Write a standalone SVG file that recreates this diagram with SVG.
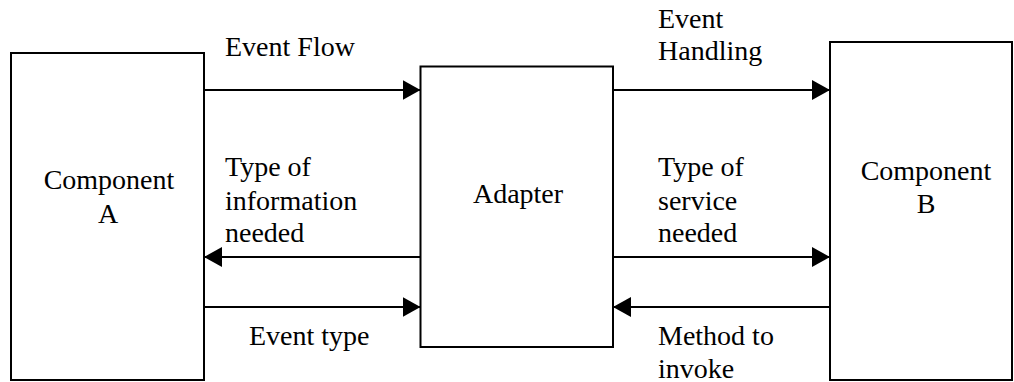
<svg xmlns="http://www.w3.org/2000/svg" width="1014" height="382" viewBox="0 0 1014 382">
  <style>
    .box { fill: #ffffff; stroke: #000000; stroke-width: 2; }
    .link { fill: none; stroke: #000000; stroke-width: 2; marker-end: url(#head); }
    text { font-family: 'Liberation Serif', 'Times New Roman', Tinos, 'DejaVu Serif', serif; font-size: 28px; fill: #000000; }
    .mid { text-anchor: middle; }
  </style>
  <defs>
    <marker id="head" markerUnits="userSpaceOnUse" markerWidth="18" markerHeight="20" refX="18" refY="10" orient="auto">
      <path d="M0,0 L18,10 L0,20 Z" fill="#000000"/>
    </marker>
  </defs>

  <rect width="1014" height="382" fill="#ffffff"/>

  <!-- nodes -->
  <g id="component-a">
    <rect class="box" x="11" y="53" width="193" height="327"/>
    <text class="mid" x="109" y="189">Component</text>
    <text class="mid" x="108" y="223">A</text>
  </g>

  <g id="adapter">
    <rect class="box" x="420.5" y="66.5" width="192.5" height="280.5"/>
    <text class="mid" x="518" y="203">Adapter</text>
  </g>

  <g id="component-b">
    <rect class="box" x="830" y="42" width="182" height="338"/>
    <text class="mid" x="926" y="180">Component</text>
    <text class="mid" x="926" y="213">B</text>
  </g>

  <!-- connectors -->
  <g id="connectors">
    <path class="link" d="M204,90 H420.5"/>
    <path class="link" d="M420.5,257 H204"/>
    <path class="link" d="M204,307 H420.5"/>
    <path class="link" d="M613,90 H830"/>
    <path class="link" d="M613,257 H830"/>
    <path class="link" d="M830,307 H613"/>
  </g>

  <!-- connector labels -->
  <g id="labels">
    <text x="225" y="56">Event Flow</text>
    <text x="225" y="176">Type of</text>
    <text x="225" y="210">information</text>
    <text x="225" y="242">needed</text>
    <text x="249" y="345">Event type</text>

    <text x="658" y="28">Event</text>
    <text x="658" y="60">Handling</text>
    <text x="658" y="176">Type of</text>
    <text x="658" y="210">service</text>
    <text x="658" y="242">needed</text>
    <text x="658" y="345">Method to</text>
    <text x="658" y="378">invoke</text>
  </g>
</svg>
